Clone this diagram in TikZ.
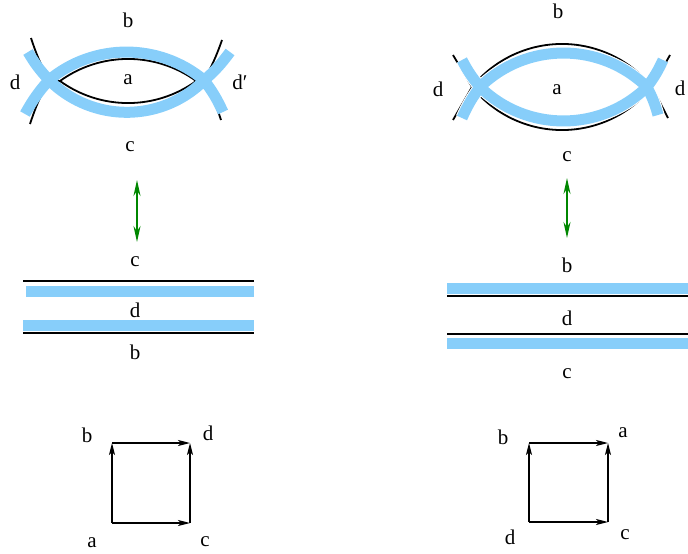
\documentclass[tikz,border=0pt]{standalone}
\usepackage{fontspec}
\setmainfont{Liberation Serif}
\usetikzlibrary{arrows.meta}

\definecolor{skyblue}{RGB}{135,206,250}
\definecolor{arrowgreen}{RGB}{0,135,0}

\tikzset{
  rim/.style={line width=1.8pt},
  band/.style={draw=skyblue, line width=11pt},
  cased/.style={band, preaction={draw=white, line width=13pt}},
  flip/.style={draw=arrowgreen, line width=2pt, {Stealth[length=16pt,width=7pt]}-{Stealth[length=16pt,width=7pt]}},
  side/.style={line width=1.1pt, -{Stealth[length=12pt,width=6pt,inset=3pt]}},
  lab/.style={font=\fontsize{21}{24}\selectfont, inner sep=0pt}
}

\begin{document}
\begin{tikzpicture}[x=1pt,y=1pt]
\useasboundingbox (0,0) rectangle (688,-554);

% left: the lens before the move
\draw[rim] (30,-124) to[bend left=5] (49,-80) -- (60,-81)
  arc[start angle=125.9, end angle=54.1, radius=116.1] -- (204,-80) to[bend left=5] (221,-120);
\draw[rim] (31,-38) to[bend right=5] (49,-80) -- (60,-81)
  arc[start angle=234.1, end angle=305.9, radius=116.1] -- (204,-80) to[bend right=5] (222,-40);
\draw[band] (25,-114) to[bend left=6] (49,-80)
  arc[start angle=129.7, end angle=50.3, radius=121.25] to[bend left=6] (223,-112)
  (28,-52) to[bend right=6] (49,-80)
  arc[start angle=224.9, end angle=315.1, radius=109.8] to[bend right=6] (230,-52);
\node[lab] (lb) at (128,-20) {b};
\node[lab] (ld) at (15,-82) {d};
\node[lab] (la) at (128,-80) {a};
\node[lab] (ldd) at (240,-82) {d′};
\node[lab] (lc) at (130,-147) {c};

% right: the lens after the move
\draw[rim] (453,-120) -- (472,-87)
  arc[start angle=141.1, end angle=38.9, radius=115.7] -- (668,-118);
\draw[rim] (453,-55) -- (472,-87)
  arc[start angle=218.9, end angle=321.1, radius=115.7] -- (670,-55);
\draw[cased] (462,-118) to[bend left=6] (480,-87)
  arc[start angle=134.3, end angle=45.7, radius=119.5] to[bend left=6] (658,-115)
  (462,-60) to[bend right=6] (480,-87)
  arc[start angle=225.7, end angle=314.3, radius=119.5] to[bend right=6] (663,-60);
\node[lab] (rb) at (558,-11) {b};
\node[lab] (rd) at (438,-89) {d};
\node[lab] (ra) at (557,-90) {a};
\node[lab] (rdd) at (680,-88) {d};
\node[lab] (rc) at (567,-157) {c};

% green moves
\coordinate (lup) at (137,-180);
\coordinate (ldown) at (137,-242);
\coordinate (rup) at (567,-178);
\coordinate (rdown) at (567,-238);
\draw[flip] (lup) -- (ldown);
\draw[flip] (rup) -- (rdown);

% left: strips
\draw[rim] (23,-281) -- (254,-281);
\draw[band] (26,-291) -- (254,-291);
\draw[band] (23,-325) -- (254,-325);
\draw[rim] (23,-333) -- (254,-333);
\node[lab] (sc) at (135,-262) {c};
\node[lab] (sd) at (135,-310) {d};
\node[lab] (sb) at (135,-352) {b};

% right: strips
\draw[band] (447,-288) -- (688,-288);
\draw[rim] (447,-296) -- (688,-296);
\draw[rim] (447,-334) -- (688,-334);
\draw[band] (447,-343) -- (688,-343);
\node[lab] (tb) at (567,-265) {b};
\node[lab] (td) at (567,-318) {d};
\node[lab] (tc) at (567,-374) {c};

% left square
\coordinate (qa) at (112,-523);
\coordinate (qb) at (112,-443);
\coordinate (qd) at (190,-443);
\coordinate (qc) at (190,-523);
\draw[side] (qa) -- (qb);
\draw[side] (qb) -- (qd);
\draw[side] (qa) -- (qc);
\draw[side] (qc) -- (qd);
\node[lab] (na) at (92,-543) {a};
\node[lab] (nb) at (87,-435) {b};
\node[lab] (nc) at (205,-542) {c};
\node[lab] (nd) at (208,-433) {d};

% right square
\coordinate (pd) at (529,-522);
\coordinate (pb) at (529,-443);
\coordinate (pa) at (608,-443);
\coordinate (pc) at (608,-522);
\draw[side] (pd) -- (pb);
\draw[side] (pb) -- (pa);
\draw[side] (pd) -- (pc);
\draw[side] (pc) -- (pa);
\node[lab] (md) at (510,-537) {d};
\node[lab] (mb) at (503,-437) {b};
\node[lab] (mc) at (625,-535) {c};
\node[lab] (ma) at (623,-433) {a};
\end{tikzpicture}
\end{document}
